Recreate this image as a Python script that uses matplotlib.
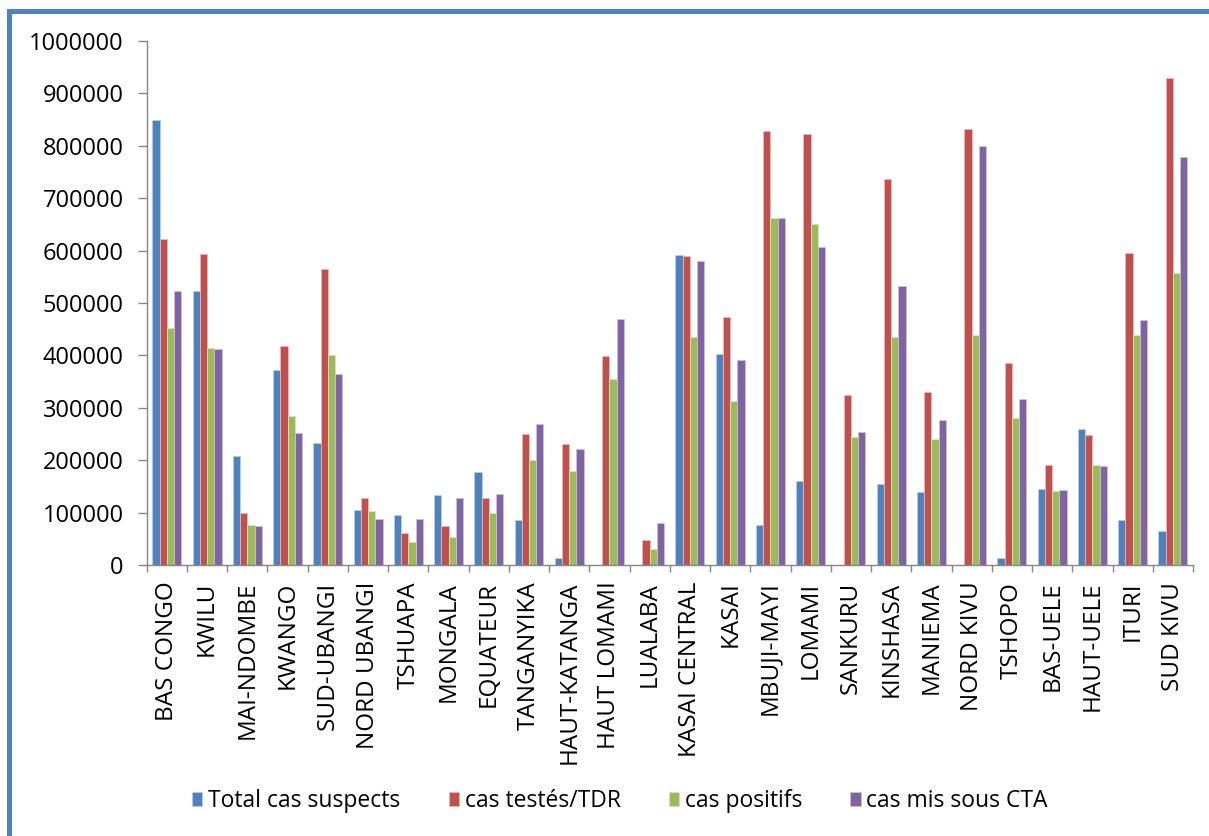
import matplotlib
matplotlib.use("Agg")
import matplotlib.pyplot as plt
import numpy as np
from matplotlib.patches import Rectangle, Patch

provinces = ["BAS CONGO", "KWILU", "MAI-NDOMBE", "KWANGO", "SUD-UBANGI", "NORD UBANGI",
             "TSHUAPA", "MONGALA", "EQUATEUR", "TANGANYIKA", "HAUT-KATANGA", "HAUT LOMAMI",
             "LUALABA", "KASAI CENTRAL", "KASAI", "MBUJI-MAYI", "LOMAMI", "SANKURU",
             "KINSHASA", "MANIEMA", "NORD KIVU", "TSHOPO", "BAS-UELE", "HAUT-UELE",
             "ITURI", "SUD KIVU"]

total_suspects = [850000, 523000, 208000, 372000, 233000, 105000, 95000, 133000, 177000,
                  86000, 13000, 0, 0, 591000, 403000, 76000, 160000, 0, 154000, 140000,
                  0, 14000, 145000, 260000, 85000, 65000]
testes_tdr = [623000, 594000, 100000, 418000, 564000, 128000, 62000, 74000, 128000,
              250000, 230000, 398000, 47000, 589000, 474000, 829000, 823000, 325000,
              736000, 331000, 832000, 385000, 191000, 248000, 595000, 929000]
positifs = [452000, 415000, 76000, 284000, 401000, 103000, 44000, 54000, 99000,
            201000, 179000, 355000, 30000, 435000, 313000, 663000, 650000, 245000,
            435000, 240000, 438000, 280000, 141000, 191000, 438000, 558000]
sous_cta = [523000, 413000, 74000, 252000, 364000, 88000, 88000, 128000, 135000,
            270000, 221000, 469000, 81000, 581000, 391000, 663000, 606000, 254000,
            533000, 277000, 800000, 317000, 143000, 189000, 468000, 778000]

series_labels = ["Total cas suspects", "cas testés/TDR", "cas positifs", "cas mis sous CTA"]
colors = ["#4F81BD", "#C0504D", "#9BBB59", "#8064A2"]
edge_colors = ["#B9CDE5", "#E6B9B8", "#D7E4BD", "#CCC1DA"]

plt.rcParams["font.family"] = ["Open Sans", "DejaVu Sans"]

W, H = 1209, 836
fig = plt.figure(figsize=(W / 100, H / 100), dpi=100)
fig.patch.set_facecolor("white")

left, right, top, bottom = 146.7, 1193, 41, 565
ax = fig.add_axes([left / W, 1 - bottom / H, (right - left) / W, (bottom - top) / H])

x = np.arange(len(provinces))
bw = 0.18
data = [total_suspects, testes_tdr, positifs, sous_cta]
for k, vals in enumerate(data):
    ax.bar(x + (k - 1.5) * bw, vals, width=bw, color=colors[k],
           edgecolor=edge_colors[k], linewidth=0.6, zorder=2)

ax.set_xlim(-0.5, len(provinces) - 0.5)
ax.set_ylim(0, 1000000)
ax.set_yticks(np.arange(0, 1000001, 100000))
ax.set_yticklabels([str(v) for v in range(0, 1000001, 100000)], fontsize=17, color="black")

ax.set_xticks(x)
ax.set_xticklabels(provinces, rotation=90, fontsize=17.5, color="black")
ax.tick_params(axis="x", which="major", length=0, pad=12)
ax.set_xticks(np.arange(-0.5, len(provinces), 1.0), minor=True)
ax.tick_params(axis="x", which="minor", length=5, width=1, color="#868686", direction="out")
ax.tick_params(axis="y", length=6.5, width=1, color="#868686", direction="out", pad=10)

for side in ["top", "right"]:
    ax.spines[side].set_visible(False)
for side in ["left", "bottom"]:
    ax.spines[side].set_color("#868686")
    ax.spines[side].set_linewidth(1)

handles = [Patch(facecolor=c, edgecolor=e, linewidth=0.6) for c, e in zip(colors, edge_colors)]
fig.legend(handles, series_labels, loc="center", bbox_to_anchor=(620 / W, 1 - 801 / H),
           ncol=4, frameon=False, fontsize=16.5, handlelength=0.45, handleheight=0.6,
           handletextpad=0.25, columnspacing=2.1)

# blue frame along the top and left edges
fig.add_artist(Rectangle((7 / W, 0), 5 / W, 1 - 9 / H, transform=fig.transFigure,
                         facecolor="#4F81BD", edgecolor="none"))
fig.add_artist(Rectangle((7 / W, 1 - 14 / H), 1 - 7 / W, 5 / H, transform=fig.transFigure,
                         facecolor="#4F81BD", edgecolor="none"))

fig.savefig("out.png", dpi=100)
